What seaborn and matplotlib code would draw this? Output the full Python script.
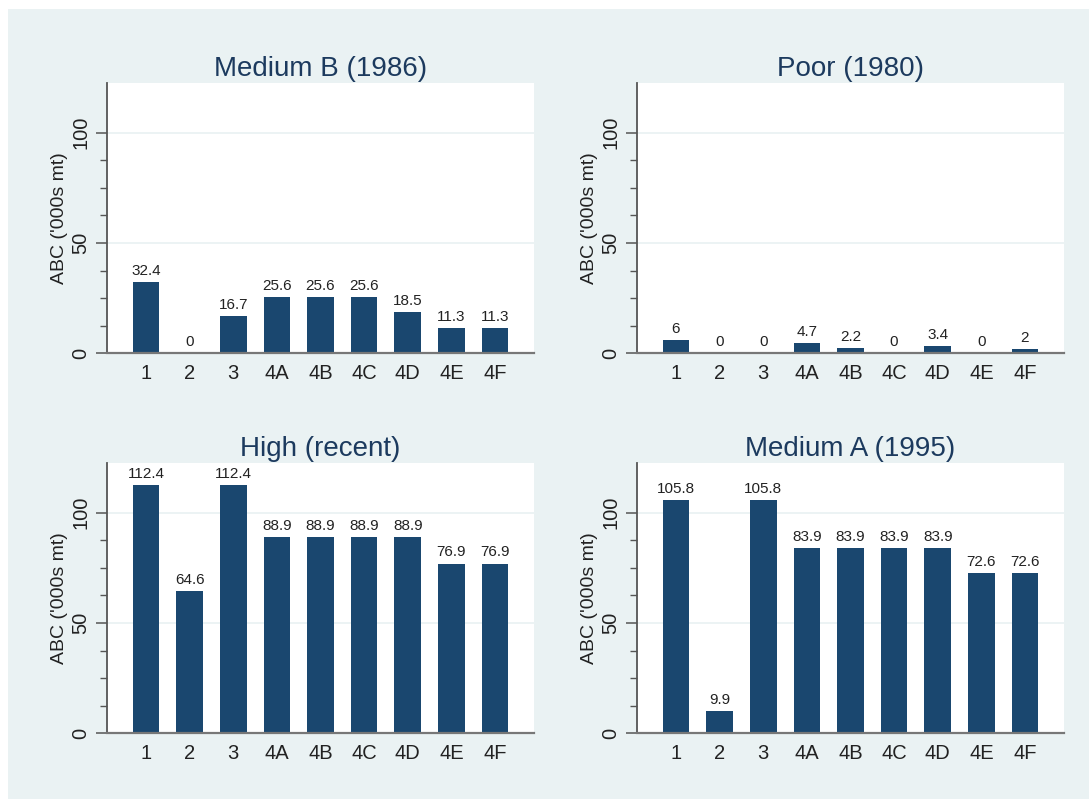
import matplotlib
matplotlib.use("Agg")
import matplotlib.pyplot as plt
import matplotlib.patches as mpatches
from matplotlib.ticker import FixedLocator
import seaborn as sns

sns.set_theme(style="white")
plt.rcParams["font.family"] = ["Liberation Sans", "DejaVu Sans"]

areas = ["1", "2", "3", "4A", "4B", "4C", "4D", "4E", "4F"]

medium_b_1986 = [32.4, 0, 16.7, 25.6, 25.6, 25.6, 18.5, 11.3, 11.3]
poor_1980 = [6, 0, 0, 4.7, 2.2, 0, 3.4, 0, 2]
high_recent = [112.4, 64.6, 112.4, 88.9, 88.9, 88.9, 88.9, 76.9, 76.9]
medium_a_1995 = [105.8, 9.9, 105.8, 83.9, 83.9, 83.9, 83.9, 72.6, 72.6]

panels = [
    ("Medium B (1986)", medium_b_1986),
    ("Poor (1980)", poor_1980),
    ("High (recent)", high_recent),
    ("Medium A (1995)", medium_a_1995),
]

y_label = "ABC ('000s mt)"

BAR = "#1a476f"
BG = "#eaf2f3"
TITLE = "#1c3a5e"

W, H = 1089, 799
fig = plt.figure(figsize=(W / 100, H / 100), dpi=100)
fig.patch.set_facecolor("white")
fig.patches.append(mpatches.Rectangle((8 / W, 0), 1 - 8 / W, 1 - 9 / H,
                                      transform=fig.transFigure,
                                      facecolor=BG, edgecolor="none", zorder=-10))

col_x = [106.7 / W, 636.7 / W]
row_y = [1 - 353.3 / H, 1 - 733.3 / H]
aw, ah = 427.5 / W, 270 / H

for i, (title, vals) in enumerate(panels):
    r, c = divmod(i, 2)
    ax = fig.add_axes([col_x[c], row_y[r], aw, ah])
    ax.set_facecolor("white")
    sns.barplot(x=areas, y=vals, color=BAR, width=0.61, saturation=1,
                edgecolor="none", ax=ax)
    ax.set_xlim(-0.9, 8.9)
    ax.set_ylim(0, 122.3)

    # value labels above each bar
    ax.bar_label(ax.containers[0], labels=[f"{v:g}" for v in vals],
                 padding=3, fontsize=11, color="#222222")

    ax.set_title(title, fontsize=20, color=TITLE, pad=5)
    ax.set_ylabel(y_label, fontsize=14, color="#222222", labelpad=2)
    ax.set_xlabel("")

    ax.set_yticks([0, 50, 100])
    ax.yaxis.set_minor_locator(FixedLocator([12.5, 25, 37.5, 62.5, 75, 87.5]))
    ax.set_yticklabels(["0", "50", "100"], rotation=90, va="center",
                       fontsize=14.5, color="#222222")
    ax.tick_params(axis="y", which="major", length=8, width=1.1,
                   color="#555555", direction="out", left=True, pad=4)
    ax.tick_params(axis="y", which="minor", length=5, width=1,
                   color="#555555", direction="out", left=True)
    ax.tick_params(axis="x", length=0, labelsize=14.5, labelcolor="#222222", pad=8)

    ax.grid(False)
    for yv in (50, 100):
        ax.axhline(yv, color=BG, lw=1.3, zorder=0)

    for side in ("top", "right"):
        ax.spines[side].set_visible(False)
    ax.spines["left"].set_color("#555555")
    ax.spines["left"].set_linewidth(1.3)
    ax.spines["bottom"].set_color("#777777")
    ax.spines["bottom"].set_linewidth(1.6)

fig.savefig("out.png", dpi=100, facecolor=fig.get_facecolor())
